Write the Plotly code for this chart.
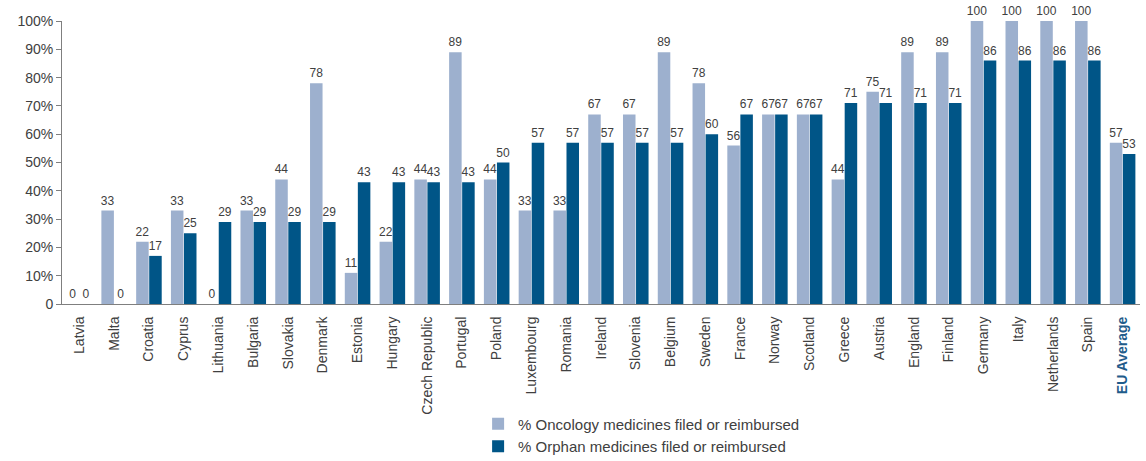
import plotly.graph_objects as go

countries = ["Latvia", "Malta", "Croatia", "Cyprus", "Lithuania", "Bulgaria", "Slovakia", "Denmark",
             "Estonia", "Hungary", "Czech Republic", "Portugal", "Poland", "Luxembourg", "Romania",
             "Ireland", "Slovenia", "Belgium", "Sweden", "France", "Norway", "Scotland", "Greece",
             "Austria", "England", "Finland", "Germany", "Italy", "Netherlands", "Spain", "EU Average"]
oncology = [0, 33, 22, 33, 0, 33, 44, 78, 11, 22, 44, 89, 44, 33, 33, 67, 67, 89, 78, 56, 67, 67, 44,
            75, 89, 89, 100, 100, 100, 100, 57]
orphan = [0, 0, 17, 25, 29, 29, 29, 29, 43, 43, 43, 43, 50, 57, 57, 57, 57, 57, 60, 67, 67, 67, 71,
          71, 71, 71, 86, 86, 86, 86, 53]
y_ticks = [0, 10, 20, 30, 40, 50, 60, 70, 80, 90, 100]
y_labels = ["0", "10%", "20%", "30%", "40%", "50%", "60%", "70%", "80%", "90%", "100%"]

tick_text = [c if c != "EU Average" else "<b><span style='color:#1F5C8B'>EU Average</span></b>"
             for c in countries]

txt_font = dict(family="Liberation Sans, Arial, sans-serif", size=12, color="#404040")

fig = go.Figure()
fig.add_trace(go.Bar(x=countries, y=oncology, name="% Oncology medicines filed or reimbursed",
                     marker=dict(color="#9DB0CE", line=dict(width=0)),
                     text=[str(v) for v in oncology], textposition="outside",
                     constraintext="none", textangle=0,
                     textfont=txt_font, outsidetextfont=txt_font, cliponaxis=False))
fig.add_trace(go.Bar(x=countries, y=orphan, name="% Orphan medicines filed or reimbursed",
                     marker=dict(color="#005587", line=dict(width=0)),
                     text=[str(v) for v in orphan], textposition="outside",
                     constraintext="none", textangle=0,
                     textfont=txt_font, outsidetextfont=txt_font, cliponaxis=False))

fig.update_layout(
    width=1146, height=461,
    margin=dict(l=62, r=6, t=21, b=157, autoexpand=False),
    paper_bgcolor="white", plot_bgcolor="white",
    barmode="group", bargap=0.25, bargroupgap=0.04,
    font=dict(family="Liberation Sans, Arial, sans-serif", size=14, color="#404040"),
    legend=dict(orientation="v", x=0.386, y=0.116, xref="paper", yref="container",
                xanchor="left", yanchor="top",
                font=dict(size=15, color="#404040"), tracegroupgap=0,
                itemwidth=30, bgcolor="rgba(0,0,0,0)"),
    showlegend=True,
)
fig.update_xaxes(tickmode="array", tickvals=countries, ticktext=tick_text, tickangle=-90,
                 showline=True, linecolor="#7F7F7F", linewidth=1, ticks="",
                 ticklabelstandoff=6, automargin=False,
                 tickfont=dict(size=14, color="#404040"), showgrid=False)
fig.update_yaxes(range=[0, 100], tickmode="array", tickvals=y_ticks, ticktext=y_labels,
                 showline=True, linecolor="#7F7F7F", linewidth=1, ticks="outside", ticklen=5,
                 tickcolor="#7F7F7F", showgrid=False, zeroline=False, automargin=False,
                 tickfont=dict(size=14, color="#404040"))

fig.write_html("out.html")
